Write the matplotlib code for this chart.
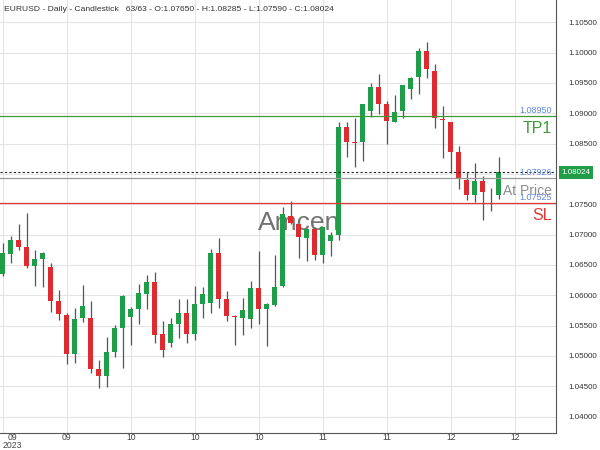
import matplotlib
matplotlib.use('Agg')
import matplotlib.pyplot as plt
import matplotlib.transforms as mtransforms
import numpy as np

plt.rcParams['font.family'] = ['Liberation Sans', 'DejaVu Sans']

# Daily EURUSD candles (63 bars)
opens = [1.0635, 1.0668, 1.0691, 1.0680, 1.0649, 1.0660, 1.0647, 1.0590, 1.0568, 1.0504,
         1.0562, 1.0563, 1.0479, 1.0467, 1.0506, 1.0546, 1.0565, 1.0578, 1.0602, 1.0622,
         1.0536, 1.0521, 1.0553, 1.0571, 1.0537, 1.0585, 1.0588, 1.0669, 1.0594, 1.0566,
         1.0563, 1.0561, 1.0612, 1.0577, 1.0584, 1.0615, 1.0730, 1.0718, 1.0694, 1.0710,
         1.0666, 1.0690, 1.0699, 1.0877, 1.0853, 1.0853, 1.0904, 1.0944, 1.0915, 1.0886,
         1.0903, 1.0940, 1.0959, 1.1003, 1.0970, 1.0891, 1.0885, 1.0836, 1.0790, 1.0766,
         1.0789, 1.0763, 1.07650]
highs = [1.0687, 1.0698, 1.0718, 1.0735, 1.0674, 1.0671, 1.0654, 1.0609, 1.0571, 1.0579,
         1.0617, 1.0591, 1.0493, 1.0532, 1.0551, 1.0601, 1.0581, 1.0618, 1.0633, 1.0638,
         1.0558, 1.0562, 1.0594, 1.0594, 1.0615, 1.0613, 1.0676, 1.0694, 1.0607, 1.0567,
         1.0596, 1.0624, 1.0673, 1.0587, 1.0666, 1.0745, 1.0755, 1.0718, 1.0710, 1.0712,
         1.0713, 1.0705, 1.0885, 1.0885, 1.0893, 1.0916, 1.0950, 1.0965, 1.0921, 1.0930,
         1.0947, 1.0960, 1.1007, 1.1017, 1.0981, 1.0912, 1.0886, 1.0846, 1.0804, 1.0818,
         1.0797, 1.0777, 1.08285]
lows = [1.0631, 1.0653, 1.0675, 1.0645, 1.0616, 1.0614, 1.0573, 1.0560, 1.0487, 1.0489,
        1.0556, 1.0472, 1.0447, 1.0449, 1.0499, 1.0480, 1.0518, 1.0552, 1.0577, 1.0521,
        1.0498, 1.0514, 1.0530, 1.0521, 1.0526, 1.0563, 1.0570, 1.0579, 1.0557, 1.0518,
        1.0534, 1.0546, 1.0553, 1.0516, 1.0582, 1.0613, 1.0718, 1.0662, 1.0657, 1.0658,
        1.0654, 1.0664, 1.0691, 1.0828, 1.0811, 1.0822, 1.0894, 1.0899, 1.0850, 1.0885,
        1.0893, 1.0923, 1.0931, 1.0958, 1.0876, 1.0827, 1.0801, 1.0775, 1.0757, 1.0754,
        1.0724, 1.0739, 1.07590]
closes = [1.0670, 1.0691, 1.0680, 1.0648, 1.0659, 1.0670, 1.0591, 1.0569, 1.0503, 1.0561,
          1.0583, 1.0479, 1.0467, 1.0506, 1.0546, 1.0599, 1.0578, 1.0603, 1.0622, 1.0535,
          1.0510, 1.0552, 1.0571, 1.0537, 1.0585, 1.0602, 1.0669, 1.0594, 1.0566, 1.0564,
          1.0576, 1.0612, 1.0577, 1.0586, 1.0614, 1.0734, 1.0719, 1.0696, 1.0709, 1.0666,
          1.0712, 1.0699, 1.0877, 1.0853, 1.0851, 1.0915, 1.0944, 1.0916, 1.0888, 1.0902,
          1.0947, 1.0958, 1.1002, 1.0973, 1.0892, 1.0889, 1.0837, 1.0793, 1.0766, 1.0789,
          1.0771, 1.0764, 1.08024]

# Trade levels
tp1 = 1.08950
at_price = 1.07926
sl = 1.07525
last_close = 1.08024

ytick_vals = [1.040, 1.045, 1.050, 1.055, 1.060, 1.065, 1.070, 1.075, 1.080, 1.085, 1.090, 1.095, 1.100, 1.105]
xtick_pos = [0, 8, 16, 24, 32, 40, 48, 56, 64]
xtick_labels = ['09\n2023', '09', '10', '10', '10', '11', '11', '12', '12']

green = '#1f9d48'
red = '#dd2b2f'

fig = plt.figure(figsize=(6, 4.5), dpi=100)
ax = fig.add_axes([0.0, 0.0384, 0.9267, 0.9616])

x = np.arange(len(opens))
o = np.array(opens)
c = np.array(closes)
up = c >= o
colors = [green if u else red for u in up]

# wicks
ax.vlines(x, lows, highs, color='#555555', linewidth=0.9, zorder=2)
# bodies
bottoms = np.minimum(o, c)
heights = np.maximum(np.abs(c - o), 0.00012)
ax.bar(x, heights, bottom=bottoms, width=0.65, color=colors, linewidth=0, zorder=3)

# watermark
ax.text(37, 1.0719, 'Amcen', fontsize=19, color='#737373', ha='center', va='center', zorder=1)

# levels
ax.axhline(tp1, color='#3d9a35', linewidth=0.9, zorder=4)
ax.axhline(last_close, color='#222222', linewidth=0.8, linestyle=(0, (2, 2)), zorder=4)
ax.axhline(at_price, color='#9a9a9a', linewidth=0.9, zorder=4)
ax.axhline(sl, color='#e03838', linewidth=0.9, zorder=4)

trans = mtransforms.blended_transform_factory(ax.transAxes, ax.transData)
lx = 0.992
ax.text(lx, tp1 + 0.0002, '1.08950', transform=trans, ha='right', va='bottom', fontsize=6.5, color='#5f86e0', zorder=5)
ax.text(lx, tp1 - 0.0008, 'TP1', transform=trans, ha='right', va='top', fontsize=11.5, color='#3d9a35', zorder=5)
ax.text(lx, at_price + 0.0002, '1.07926', transform=trans, ha='right', va='bottom', fontsize=6.5, color='#5f86e0', zorder=5)
ax.text(lx, at_price - 0.0009, 'At Price', transform=trans, ha='right', va='top', fontsize=10, color='#8c8c8c', zorder=5)
ax.text(lx, sl + 0.0002, '1.07525', transform=trans, ha='right', va='bottom', fontsize=6.5, color='#5f86e0', zorder=5)
ax.text(lx, sl - 0.0008, 'SL', transform=trans, ha='right', va='top', fontsize=11.5, color='#e03838', zorder=5)

# current price tag on the right axis (covers the 1.08000 label)
ax.text(1.010, last_close, '1.08024', transform=trans, ha='left', va='center', fontsize=5.8, color='white',
        bbox=dict(boxstyle='square,pad=0.35', facecolor=green, edgecolor='none'), zorder=6, clip_on=False)

# title
ax.text(0.008, 0.985, 'EURUSD - Daily - Candlestick   63/63 - O:1.07650 - H:1.08285 - L:1.07590 - C:1.08024',
        transform=ax.transAxes, ha='left', va='top', fontsize=6.1, color='#333333')

ax.set_xlim(-0.34, 69.16)
ax.set_ylim(1.03735, 1.10867)

ax.yaxis.tick_right()
ax.set_yticks(ytick_vals)
ax.set_yticklabels(['' if abs(v - 1.080) < 1e-9 else '%.5f' % v for v in ytick_vals])
ax.set_xticks(xtick_pos)
ax.set_xticklabels(xtick_labels, linespacing=0.85)
ax.tick_params(axis='y', length=0, pad=9, labelsize=5.8, labelcolor='#333333')
ax.tick_params(axis='x', length=0, pad=0.5, labelsize=6.2, labelcolor='#444444')
for lbl in ax.get_xticklabels():
    lbl.set_multialignment('center')
first = ax.get_xticklabels()[0]
first.set_transform(first.get_transform() + mtransforms.ScaledTranslation(10 / 100, 0, fig.dpi_scale_trans))

ax.grid(True, color='#e4e4e4', linewidth=0.8, zorder=0)
ax.set_axisbelow(True)
for side in ['top', 'left']:
    ax.spines[side].set_visible(False)
ax.spines['right'].set_color('#555555')
ax.spines['bottom'].set_color('#555555')

fig.savefig('out.png', dpi=100)
